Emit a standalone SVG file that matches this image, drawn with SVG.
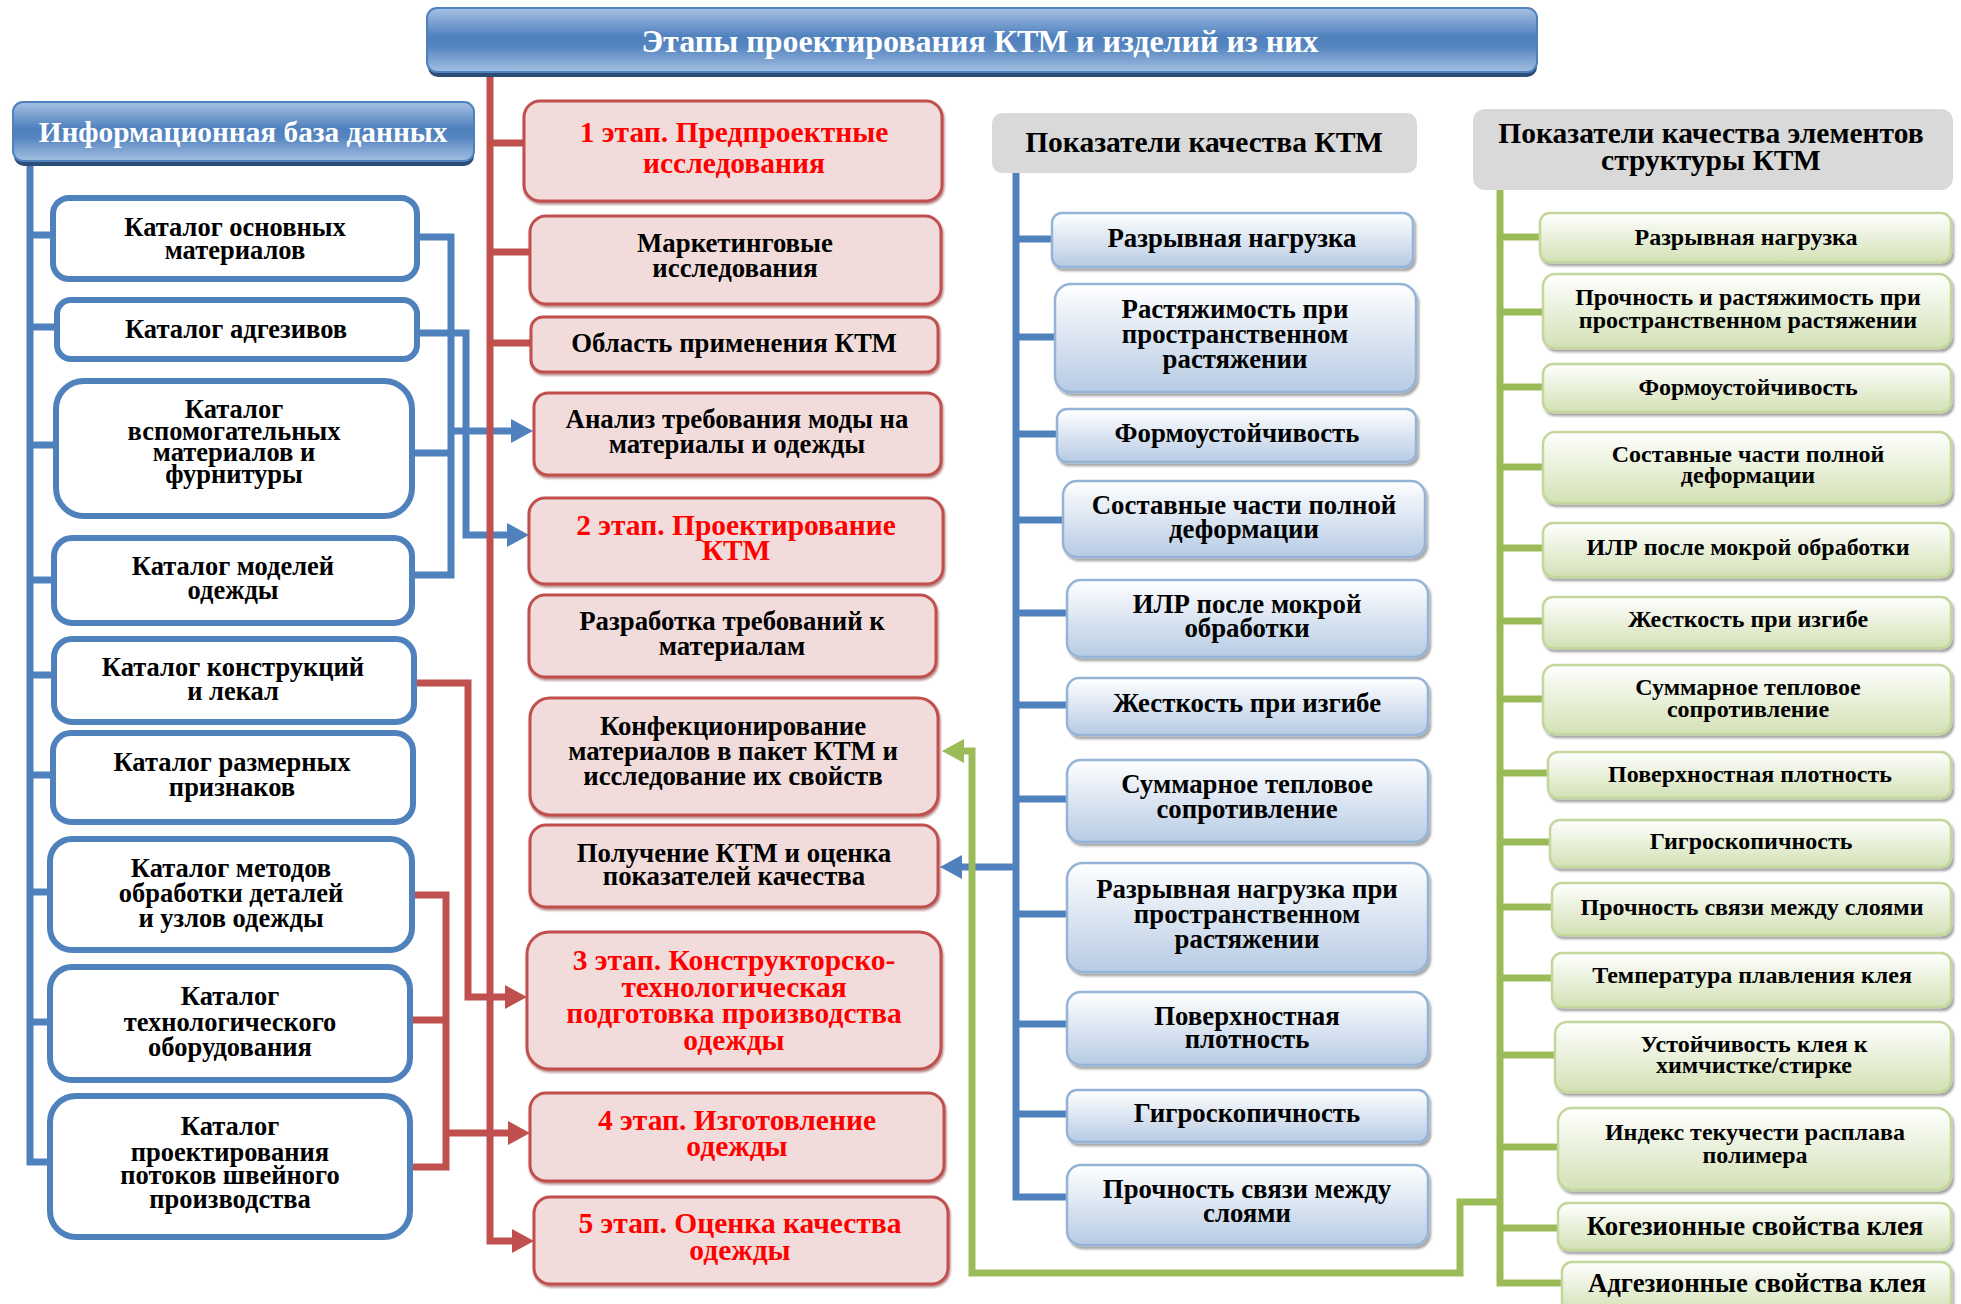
<svg xmlns="http://www.w3.org/2000/svg" width="1961" height="1304" viewBox="0 0 1961 1304">
<defs>
<linearGradient id="gTitle" x1="0" y1="0" x2="0" y2="1">
<stop offset="0" stop-color="#a6c1e4"/><stop offset="0.45" stop-color="#4f81bd"/><stop offset="0.6" stop-color="#5585c0"/><stop offset="1" stop-color="#a3bfe2"/>
</linearGradient>
<linearGradient id="gBlue" x1="0" y1="0" x2="0" y2="1">
<stop offset="0" stop-color="#ffffff"/><stop offset="1" stop-color="#b7cbe4"/>
</linearGradient>
<linearGradient id="gGreen" x1="0" y1="0" x2="0" y2="1">
<stop offset="0" stop-color="#ffffff"/><stop offset="1" stop-color="#d3e1b5"/>
</linearGradient>
<filter id="sh" x="-5%" y="-10%" width="110%" height="130%">
<feDropShadow dx="2" dy="3" stdDeviation="1.2" flood-color="#000" flood-opacity="0.35"/>
</filter>
<filter id="shR" x="-5%" y="-10%" width="110%" height="130%">
<feDropShadow dx="1" dy="2" stdDeviation="1" flood-color="#7a1f1c" flood-opacity="0.55"/>
</filter>
<marker id="aBlue" viewBox="0 0 22 24" refX="0" refY="12" markerWidth="22" markerHeight="24" markerUnits="userSpaceOnUse" orient="auto"><path d="M0,0 L22,12 L0,24 Z" fill="#4f81bd"/></marker>
<marker id="aRed" viewBox="0 0 22 24" refX="0" refY="12" markerWidth="22" markerHeight="24" markerUnits="userSpaceOnUse" orient="auto"><path d="M0,0 L22,12 L0,24 Z" fill="#c0504d"/></marker>
<marker id="aGreen" viewBox="0 0 22 24" refX="0" refY="12" markerWidth="22" markerHeight="24" markerUnits="userSpaceOnUse" orient="auto"><path d="M0,0 L22,12 L0,24 Z" fill="#9bbb59"/></marker>
</defs>
<style>
text{font-family:"Liberation Serif","Times New Roman",serif;font-weight:bold;text-anchor:middle;fill:#000}
.wt{fill:#fff}
.rt{fill:#ff0000}
.cat{fill:#fff;stroke:#4f81bd;stroke-width:6}
.red{fill:#f2dcdb;stroke:#c0504d;stroke-width:3;filter:url(#shR)}
.blu{fill:url(#gBlue);stroke:#95b3d7;stroke-width:2.5;filter:url(#sh)}
.grn{fill:url(#gGreen);stroke:#c3d69b;stroke-width:2.5;filter:url(#sh)}
.hdr{fill:url(#gTitle);stroke:#4f81bd;stroke-width:2}
.gray{fill:#d9d9d9}
.lb{fill:none;stroke:#4f81bd;stroke-width:7}
.lr{fill:none;stroke:#c0504d;stroke-width:7}
.lg{fill:none;stroke:#9bbb59;stroke-width:7}
.fc{font-size:26.5px}
.fb{font-size:26.8px}
.fs{font-size:29.5px}
.fg{font-size:24px}
</style>

<g id="connectors">
<!-- info database tree -->
<path class="lb" d="M30,163 V1162 H50"/>
<path class="lb" d="M30,235 H53 M30,327 H57 M30,445 H56 M30,580 H54 M30,675 H54 M30,775 H53 M30,892 H50 M30,1022 H50"/>
<path class="lb" d="M417,237 H451 V575 H412 M412,453 H451"/>
<path class="lb" d="M451,431 H511" marker-end="url(#aBlue)"/>
<path class="lb" d="M417,333 H466 V535 H507" marker-end="url(#aBlue)"/>
<!-- red stage tree -->
<path class="lr" d="M490,75 V1241 H512" marker-end="url(#aRed)"/>
<path class="lr" d="M490,143 H524 M490,252 H530 M490,343 H531"/>
<path class="lr" d="M414,683 H468 V997 H505" marker-end="url(#aRed)"/>
<path class="lr" d="M412,895 H446 V1167 H410 M410,1020 H446"/>
<path class="lr" d="M446,1133 H508" marker-end="url(#aRed)"/>
<!-- quality indicators tree -->
<path class="lb" d="M1016,173 V1197 H1067"/>
<path class="lb" d="M1016,239 H1052 M1016,337 H1055 M1016,434 H1057 M1016,520 H1063 M1016,613 H1067 M1016,705 H1067 M1016,799 H1067 M1016,914 H1067 M1016,1024 H1067 M1016,1114 H1067"/>
<path class="lb" d="M1016,867 H962" marker-end="url(#aBlue)"/>
<!-- structure elements tree -->
<path class="lg" d="M1500,190 V1283 H1562"/>
<path class="lg" d="M1500,237 H1540 M1500,312 H1543 M1500,387 H1543 M1500,467 H1543 M1500,548 H1543 M1500,621 H1543 M1500,699 H1543 M1500,773 H1548 M1500,842 H1550 M1500,907 H1552 M1500,978 H1552 M1500,1055 H1555 M1500,1147 H1558 M1500,1228 H1558"/>
<path class="lg" d="M1500,1202 H1460 V1273 H972 V751 H964" marker-end="url(#aGreen)"/>
</g>

<g id="title">
<rect x="428" y="12" width="1109" height="65" rx="10" fill="#2c4d75"/>
<rect class="hdr" x="427" y="8" width="1110" height="64" rx="10"/>
<text class="wt" x="980" y="52" style="font-size:32px">Этапы проектирования КТМ и изделий из них</text>
</g>

<g id="infodb">
<rect x="14" y="106" width="460" height="60" rx="10" fill="#2c4d75"/>
<rect class="hdr" x="13" y="102" width="461" height="59" rx="10"/>
<text class="wt" x="243" y="142" style="font-size:29.3px">Информационная база данных</text>
</g>

<g id="cat1"><rect class="cat" x="53" y="198" width="364" height="81" rx="16"/><text class="fc" x="235"><tspan x="235" y="236">Каталог основных</tspan><tspan x="235" y="259">материалов</tspan></text></g>
<g id="cat2"><rect class="cat" x="57" y="300" width="360" height="59" rx="14"/><text class="fc" x="236" y="338">Каталог адгезивов</text></g>
<g id="cat3"><rect class="cat" x="56" y="381" width="356" height="135" rx="28"/><text class="fc" x="234"><tspan x="234" y="418">Каталог</tspan><tspan x="234" y="440">вспомогательных</tspan><tspan x="234" y="461">материалов и</tspan><tspan x="234" y="483">фурнитуры</tspan></text></g>
<g id="cat4"><rect class="cat" x="54" y="538" width="358" height="85" rx="18"/><text class="fc" x="233"><tspan x="233" y="575">Каталог моделей</tspan><tspan x="233" y="599">одежды</tspan></text></g>
<g id="cat5"><rect class="cat" x="54" y="639" width="360" height="83" rx="18"/><text class="fc" x="233"><tspan x="233" y="676">Каталог конструкций</tspan><tspan x="233" y="700">и лекал</tspan></text></g>
<g id="cat6"><rect class="cat" x="53" y="733" width="360" height="89" rx="18"/><text class="fc" x="232"><tspan x="232" y="771">Каталог размерных</tspan><tspan x="232" y="796">признаков</tspan></text></g>
<g id="cat7"><rect class="cat" x="50" y="839" width="362" height="111" rx="22"/><text class="fc" x="231"><tspan x="231" y="877">Каталог методов</tspan><tspan x="231" y="902">обработки деталей</tspan><tspan x="231" y="927">и узлов одежды</tspan></text></g>
<g id="cat8"><rect class="cat" x="50" y="967" width="360" height="113" rx="22"/><text class="fc" x="230"><tspan x="230" y="1005">Каталог</tspan><tspan x="230" y="1031">технологического</tspan><tspan x="230" y="1056">оборудования</tspan></text></g>
<g id="cat9"><rect class="cat" x="50" y="1096" width="360" height="141" rx="26"/><text class="fc" x="230"><tspan x="230" y="1135">Каталог</tspan><tspan x="230" y="1161">проектирования</tspan><tspan x="230" y="1184">потоков швейного</tspan><tspan x="230" y="1208">производства</tspan></text></g>

<g id="st1"><rect class="red" x="524" y="101" width="418" height="100" rx="16"/><text class="fs rt" x="734"><tspan x="734" y="142">1 этап. Предпроектные</tspan><tspan x="734" y="173">исследования</tspan></text></g>
<g id="st1a"><rect class="red" x="530" y="216" width="411" height="88" rx="16"/><text class="fb" x="735"><tspan x="735" y="252">Маркетинговые</tspan><tspan x="735" y="277">исследования</tspan></text></g>
<g id="st1b"><rect class="red" x="531" y="317" width="407" height="55" rx="12"/><text class="fb" x="734" y="352">Область применения КТМ</text></g>
<g id="st1c"><rect class="red" x="534" y="393" width="407" height="82" rx="14"/><text class="fb" x="737"><tspan x="737" y="428">Анализ требования моды на</tspan><tspan x="737" y="453">материалы и одежды</tspan></text></g>
<g id="st2"><rect class="red" x="529" y="498" width="414" height="86" rx="16"/><text class="fs rt" x="736"><tspan x="736" y="535">2 этап. Проектирование</tspan><tspan x="736" y="560">КТМ</tspan></text></g>
<g id="st2a"><rect class="red" x="529" y="595" width="407" height="82" rx="16"/><text class="fb" x="732"><tspan x="732" y="630">Разработка требований к</tspan><tspan x="732" y="655">материалам</tspan></text></g>
<g id="st2b"><rect class="red" x="530" y="698" width="408" height="117" rx="20"/><text class="fb" x="733"><tspan x="733" y="735">Конфекционирование</tspan><tspan x="733" y="760">материалов в пакет КТМ и</tspan><tspan x="733" y="785">исследование их свойств</tspan></text></g>
<g id="st2c"><rect class="red" x="530" y="825" width="408" height="82" rx="16"/><text class="fb" x="734"><tspan x="734" y="862">Получение КТМ и оценка</tspan><tspan x="734" y="885">показателей качества</tspan></text></g>
<g id="st3"><rect class="red" x="527" y="932" width="414" height="137" rx="22"/><text class="fs rt" x="734"><tspan x="734" y="970">3 этап. Конструкторско-</tspan><tspan x="734" y="997">технологическая</tspan><tspan x="734" y="1023">подготовка производства</tspan><tspan x="734" y="1050">одежды</tspan></text></g>
<g id="st4"><rect class="red" x="530" y="1093" width="414" height="88" rx="16"/><text class="fs rt" x="737"><tspan x="737" y="1130">4 этап. Изготовление</tspan><tspan x="737" y="1156">одежды</tspan></text></g>
<g id="st5"><rect class="red" x="534" y="1197" width="414" height="87" rx="16"/><text class="fs rt" x="740"><tspan x="740" y="1233">5 этап. Оценка качества</tspan><tspan x="740" y="1260">одежды</tspan></text></g>

<g id="qhdr"><rect class="gray" x="992" y="113" width="425" height="60" rx="10"/><text class="fs" x="1204" y="152">Показатели качества КТМ</text></g>
<g id="q1"><rect class="blu" x="1052" y="213" width="361" height="54" rx="10"/><text class="fb" x="1232" y="247">Разрывная нагрузка</text></g>
<g id="q2"><rect class="blu" x="1055" y="284" width="361" height="108" rx="16"/><text class="fb" x="1235"><tspan x="1235" y="318">Растяжимость при</tspan><tspan x="1235" y="343">пространственном</tspan><tspan x="1235" y="368">растяжении</tspan></text></g>
<g id="q3"><rect class="blu" x="1057" y="409" width="359" height="53" rx="10"/><text class="fb" x="1237" y="442">Формоустойчивость</text></g>
<g id="q4"><rect class="blu" x="1063" y="481" width="362" height="76" rx="14"/><text class="fb" x="1244"><tspan x="1244" y="514">Составные части полной</tspan><tspan x="1244" y="538">деформации</tspan></text></g>
<g id="q5"><rect class="blu" x="1067" y="580" width="361" height="77" rx="14"/><text class="fb" x="1247"><tspan x="1247" y="613">ИЛР после мокрой</tspan><tspan x="1247" y="637">обработки</tspan></text></g>
<g id="q6"><rect class="blu" x="1067" y="678" width="361" height="57" rx="12"/><text class="fb" x="1247" y="712">Жесткость при изгибе</text></g>
<g id="q7"><rect class="blu" x="1067" y="760" width="361" height="82" rx="14"/><text class="fb" x="1247"><tspan x="1247" y="793">Суммарное тепловое</tspan><tspan x="1247" y="818">сопротивление</tspan></text></g>
<g id="q8"><rect class="blu" x="1067" y="863" width="361" height="109" rx="16"/><text class="fb" x="1247"><tspan x="1247" y="898">Разрывная нагрузка при</tspan><tspan x="1247" y="923">пространственном</tspan><tspan x="1247" y="948">растяжении</tspan></text></g>
<g id="q9"><rect class="blu" x="1067" y="992" width="361" height="73" rx="14"/><text class="fb" x="1247"><tspan x="1247" y="1025">Поверхностная</tspan><tspan x="1247" y="1048">плотность</tspan></text></g>
<g id="q10"><rect class="blu" x="1067" y="1090" width="361" height="52" rx="10"/><text class="fb" x="1247" y="1122">Гигроскопичность</text></g>
<g id="q11"><rect class="blu" x="1067" y="1165" width="361" height="80" rx="14"/><text class="fb" x="1247"><tspan x="1247" y="1198">Прочность связи между</tspan><tspan x="1247" y="1222">слоями</tspan></text></g>

<g id="shdr"><rect class="gray" x="1473" y="109" width="480" height="81" rx="12"/><text class="fs" x="1711"><tspan x="1711" y="143">Показатели качества элементов</tspan><tspan x="1711" y="170">структуры КТМ</tspan></text></g>
<g id="s1"><rect class="grn" x="1540" y="213" width="411" height="49" rx="10"/><text class="fg" x="1746" y="245">Разрывная нагрузка</text></g>
<g id="s2"><rect class="grn" x="1543" y="274" width="408" height="74" rx="12"/><text class="fg" x="1748"><tspan x="1748" y="305">Прочность и растяжимость при</tspan><tspan x="1748" y="328">пространственном растяжении</tspan></text></g>
<g id="s3"><rect class="grn" x="1543" y="364" width="408" height="48" rx="10"/><text class="fg" x="1748" y="395">Формоустойчивость</text></g>
<g id="s4"><rect class="grn" x="1543" y="432" width="408" height="71" rx="12"/><text class="fg" x="1748"><tspan x="1748" y="462">Составные части полной</tspan><tspan x="1748" y="483">деформации</tspan></text></g>
<g id="s5"><rect class="grn" x="1543" y="523" width="408" height="54" rx="10"/><text class="fg" x="1748" y="555">ИЛР после мокрой обработки</text></g>
<g id="s6"><rect class="grn" x="1543" y="597" width="408" height="51" rx="10"/><text class="fg" x="1748" y="627">Жесткость при изгибе</text></g>
<g id="s7"><rect class="grn" x="1543" y="665" width="408" height="69" rx="12"/><text class="fg" x="1748"><tspan x="1748" y="695">Суммарное тепловое</tspan><tspan x="1748" y="717">сопротивление</tspan></text></g>
<g id="s8"><rect class="grn" x="1548" y="752" width="403" height="46" rx="10"/><text class="fg" x="1750" y="782">Поверхностная плотность</text></g>
<g id="s9"><rect class="grn" x="1550" y="820" width="401" height="47" rx="10"/><text class="fg" x="1751" y="849">Гигроскопичность</text></g>
<g id="s10"><rect class="grn" x="1552" y="883" width="399" height="52" rx="10"/><text class="fg" x="1752" y="915">Прочность связи между слоями</text></g>
<g id="s11"><rect class="grn" x="1552" y="953" width="399" height="54" rx="10"/><text class="fg" x="1752" y="983">Температура плавления клея</text></g>
<g id="s12"><rect class="grn" x="1555" y="1022" width="396" height="70" rx="12"/><text class="fg" x="1754"><tspan x="1754" y="1052">Устойчивость клея к</tspan><tspan x="1754" y="1073">химчистке/стирке</tspan></text></g>
<g id="s13"><rect class="grn" x="1558" y="1108" width="393" height="82" rx="14"/><text class="fg" x="1755"><tspan x="1755" y="1140">Индекс текучести расплава</tspan><tspan x="1755" y="1163">полимера</tspan></text></g>
<g id="s14"><rect class="grn" x="1558" y="1203" width="393" height="47" rx="10"/><text class="fb" x="1755" y="1235">Когезионные свойства клея</text></g>
<g id="s15"><rect class="grn" x="1562" y="1262" width="389" height="50" rx="10"/><text class="fb" x="1757" y="1292">Адгезионные свойства клея</text></g>
</svg>
